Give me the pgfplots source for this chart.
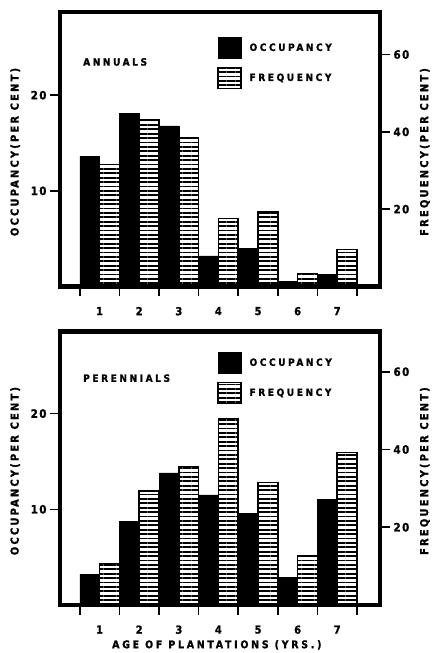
\documentclass[border=0pt]{standalone}
\usepackage{fontspec}
\setmainfont{DejaVu Sans Condensed}
\newfontfamily\lab{DejaVu Sans Condensed}[LetterSpace=20, BoldFeatures={FakeBold=1.4}]
\newfontfamily\labw{DejaVu Sans Condensed}[LetterSpace=26, BoldFeatures={FakeBold=1.4}]
\newfontfamily\num{DejaVu Sans Condensed}[LetterSpace=12, BoldFeatures={FakeBold=1.4}]
\usepackage{pgfplots}
\pgfplotsset{compat=1.18}
\usetikzlibrary{patterns.meta}

\tikzset{
  freqpat/.style={draw=black, line width=1.6bp, pattern={Lines[angle=0,distance=4.4bp,line width=1.8bp]}, pattern color=black},
  occpat/.style={draw=black, fill=black, line width=0.5bp},
}
\pgfplotsset{
  boxleg/.style={legend image code/.code={\draw[##1] (0bp,-10.5bp) rectangle (23bp,10.5bp);}},
  common/.style={
    scale only axis, width=320bp, xmin=0, xmax=8.08, ymin=0,
    axis line style={line width=4.5bp},
    tick style={line width=1.6bp, black},
    tick align=outside, major tick length=10bp,
    /pgf/number format/assume math mode=true,
    tick label style={font=\num\bfseries\fontsize{11.5bp}{12bp}\selectfont},
    clip=false,
    bar width=0.5,
  },
  leftax/.style={
    common,
    xtick={0.5,1.5,...,7.5}, xticklabels={,,,,,,,,},
    extra x ticks={1,2,3,4,5,6,7},
    extra x tick labels={1,2,3,4,5,6,7},
    extra x tick style={tick style={draw=none}},
    xticklabel style={font=\num\bfseries\fontsize{11bp}{11bp}\selectfont, yshift=-7bp},
    xtick pos=bottom, ytick pos=left,
    ytick={10,20},
    ylabel style={font=\lab\bfseries\fontsize{11bp}{12bp}\selectfont, at={(axis description cs:-0.14,0.49)}, anchor=center},
    ylabel={OCCUPANCY(PER CENT)},
  },
  rightax/.style={
    common,
    xtick=\empty,
    ytick pos=right, yticklabel pos=right,
    ytick={20,40,60},
    ylabel style={font=\lab\bfseries\fontsize{11bp}{12bp}\selectfont, at={(axis description cs:1.14,0.49)}, anchor=center},
    ylabel={FREQUENCY(PER CENT)},
    legend style={draw=none, fill=none, row sep=8bp, column sep=8bp, inner sep=0pt,
      nodes={inner sep=0pt, anchor=west},
      font=\labw\bfseries\fontsize{10bp}{10bp}\selectfont},
    legend cell align=left,
  },
}

\begin{document}
\begin{tikzpicture}
\useasboundingbox (0,0) rectangle (433bp,653bp);

% ---------- top panel: annuals ----------
\begin{axis}[leftax, at={(60bp,366.5bp)}, anchor=south west, height=274.5bp, ymax=28.7]
\addplot[ybar, occpat, bar shift=-0.25] coordinates {(1,13.6) (2,18.1) (3,16.8) (4,3.2) (5,4.0) (6,0.5) (7,1.25)};
\node[anchor=west, inner sep=0pt, font=\labw\bfseries\fontsize{10bp}{10bp}\selectfont] at (axis description cs:0.072,0.818) {ANNUALS};
\end{axis}
\begin{axis}[rightax, at={(60bp,366.5bp)}, anchor=south west, height=274.5bp, ymax=71,
  legend style={at={(axis description cs:0.49,0.909)}, anchor=north west}]
\addlegendimage{occpat, boxleg}
\addlegendentry{OCCUPANCY}
\addplot[ybar, freqpat, bar shift=0.25, boxleg] coordinates {(1,31.6) (2,43.0) (3,38.4) (4,17.6) (5,19.2) (6,3.4) (7,9.6)};
\addlegendentry{FREQUENCY}
\end{axis}

% ---------- bottom panel: perennials ----------
\begin{axis}[leftax, at={(60bp,48bp)}, anchor=south west, height=273.3bp, ymax=28.56,
  xlabel={AGE OF PLANTATIONS (YRS.)},
  xlabel style={font=\labw\bfseries\fontsize{10.5bp}{12bp}\selectfont, at={(axis description cs:0.49,-0.146)}, anchor=center}]
\addplot[ybar, occpat, bar shift=-0.25] coordinates {(1,3.2) (2,8.7) (3,13.8) (4,11.5) (5,9.6) (6,2.9) (7,11.0)};
\node[anchor=west, inner sep=0pt, font=\labw\bfseries\fontsize{10bp}{10bp}\selectfont] at (axis description cs:0.072,0.83) {PERENNIALS};
\end{axis}
\begin{axis}[rightax, at={(60bp,48bp)}, anchor=south west, height=273.3bp, ymax=70.3,
  legend style={at={(axis description cs:0.49,0.926)}, anchor=north west}]
\addlegendimage{occpat, boxleg}
\addlegendentry{OCCUPANCY}
\addplot[ybar, freqpat, bar shift=0.25, boxleg] coordinates {(1,10.7) (2,29.3) (3,35.6) (4,48.0) (5,31.5) (6,12.6) (7,39.2)};
\addlegendentry{FREQUENCY}
\end{axis}
\end{tikzpicture}
\end{document}
